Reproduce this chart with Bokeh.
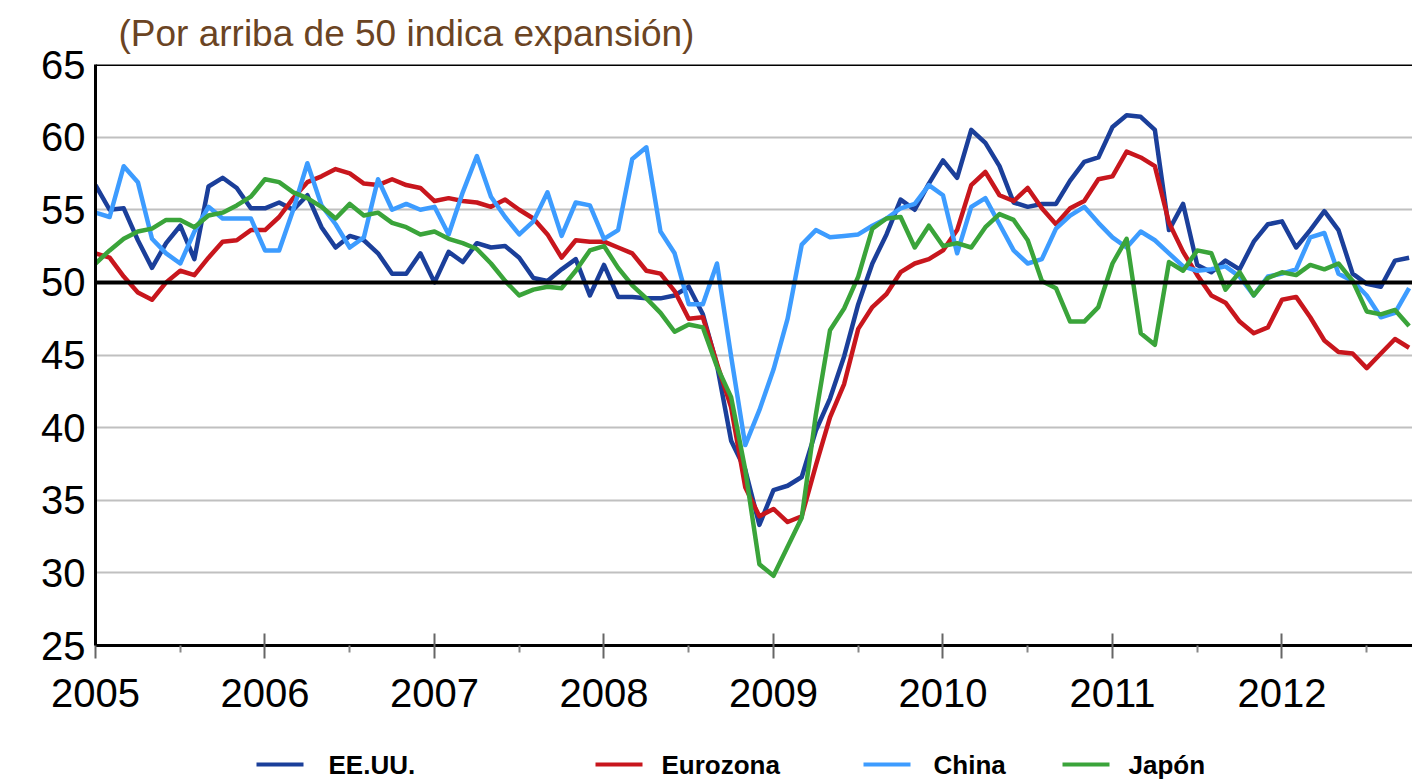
from bokeh.plotting import figure
from bokeh.layouts import column
from bokeh.models import Range1d, FixedTicker, Span
from bokeh.core.properties import value
from bokeh.embed import file_html
from bokeh.resources import INLINE

# ---------------- data ----------------
start_year = 2005
year_ticks = [2005, 2006, 2007, 2008, 2009, 2010, 2011, 2012]
year_labels = ["2005", "2006", "2007", "2008", "2009", "2010", "2011", "2012"]
half_year_ticks = [2005.5, 2006.5, 2007.5, 2008.5, 2009.5, 2010.5, 2011.5, 2012.5]
y_ticks = [25, 30, 35, 40, 45, 50, 55, 60, 65]
series_names = ["EE.UU.", "Eurozona", "China", "Japón"]

# monthly PMI, Jan 2005 - Oct 2012
eeuu = [56.7, 55.0, 55.1, 52.9, 51.0, 52.7, 53.9, 51.6, 56.6, 57.2, 56.5, 55.1,
        55.1, 55.5, 55.0, 56.0, 53.8, 52.4, 53.2, 52.9, 52.0, 50.6, 50.6, 52.0,
        50.0, 52.1, 51.4, 52.7, 52.4, 52.5, 51.7, 50.3, 50.1, 50.9, 51.6, 49.1,
        51.2, 49.0, 49.0, 48.9, 48.9, 49.1, 49.7, 47.8, 44.3, 39.1, 37.1, 33.3,
        35.7, 36.0, 36.6, 39.8, 42.0, 44.9, 48.5, 51.3, 53.3, 55.7, 55.0, 56.8,
        58.4, 57.2, 60.5, 59.6, 58.0, 55.5, 55.2, 55.4, 55.4, 57.0, 58.3, 58.6,
        60.7, 61.5, 61.4, 60.5, 53.6, 55.4, 51.2, 50.7, 51.5, 50.9, 52.8, 54.0,
        54.2, 52.4, 53.6, 54.9, 53.6, 50.6, 49.9, 49.7, 51.5, 51.7]
eurozona = [52.0, 51.7, 50.4, 49.3, 48.8, 50.0, 50.8, 50.5, 51.7, 52.8, 52.9, 53.6,
            53.6, 54.5, 55.8, 56.9, 57.3, 57.8, 57.5, 56.8, 56.7, 57.1, 56.7, 56.5,
            55.6, 55.8, 55.6, 55.5, 55.2, 55.7, 55.0, 54.4, 53.3, 51.7, 52.9, 52.8,
            52.8, 52.4, 52.0, 50.8, 50.6, 49.4, 47.5, 47.6, 44.4, 41.4, 35.9, 33.9,
            34.4, 33.5, 33.9, 37.4, 40.7, 43.0, 46.8, 48.3, 49.2, 50.7, 51.3, 51.6,
            52.2, 53.6, 56.7, 57.6, 56.0, 55.6, 56.5, 55.1, 54.0, 55.1, 55.6, 57.1,
            57.3, 59.0, 58.6, 58.0, 54.1, 52.1, 50.5, 49.1, 48.6, 47.3, 46.5, 46.9,
            48.8, 49.0, 47.6, 46.0, 45.2, 45.1, 44.1, 45.1, 46.1, 45.5]
china = [54.8, 54.5, 58.0, 56.9, 53.0, 52.0, 51.3, 53.5, 55.2, 54.4, 54.4, 54.4,
         52.2, 52.2, 55.0, 58.2, 55.3, 54.0, 52.4, 53.1, 57.1, 55.0, 55.4, 55.0,
         55.2, 53.3, 56.2, 58.7, 55.9, 54.5, 53.3, 54.2, 56.2, 53.2, 55.5, 55.3,
         53.0, 53.6, 58.5, 59.3, 53.5, 52.0, 48.5, 48.5, 51.3, 44.9, 38.8, 41.2,
         44.0, 47.5, 52.6, 53.6, 53.1, 53.2, 53.3, 53.9, 54.4, 55.1, 55.4, 56.7,
         56.0, 52.0, 55.2, 55.8, 54.0, 52.2, 51.3, 51.6, 53.7, 54.6, 55.2, 54.1,
         53.1, 52.4, 53.5, 52.9, 52.0, 51.1, 50.8, 50.9, 51.1, 50.4, 49.1, 50.4,
         50.6, 50.9, 53.1, 53.4, 50.6, 50.1, 49.1, 47.6, 47.9, 49.6]
japon = [51.3, 52.2, 53.0, 53.5, 53.7, 54.3, 54.3, 53.8, 54.6, 54.8, 55.3, 55.9,
         57.1, 56.9, 56.2, 55.8, 55.2, 54.4, 55.4, 54.6, 54.8, 54.1, 53.8, 53.3,
         53.5, 53.0, 52.7, 52.3, 51.3, 50.1, 49.1, 49.5, 49.7, 49.6, 50.8, 52.2,
         52.5, 51.0, 49.8, 48.9, 47.9, 46.6, 47.1, 46.9, 44.2, 42.1, 37.1, 30.6,
         29.8, 31.8, 33.8, 40.9, 46.7, 48.2, 50.4, 53.7, 54.4, 54.5, 52.4, 53.9,
         52.5, 52.7, 52.4, 53.8, 54.7, 54.3, 52.9, 50.1, 49.6, 47.3, 47.3, 48.3,
         51.3, 53.0, 46.5, 45.7, 51.4, 50.8, 52.2, 52.0, 49.5, 50.7, 49.1, 50.3,
         50.7, 50.5, 51.2, 50.9, 51.3, 50.1, 48.0, 47.8, 48.1, 47.0]

months = [start_year + i / 12 for i in range(len(eeuu))]

# ---------------- main figure ----------------
FONT = "Liberation Sans"
colors = ["#1b3f9a", "#c8161d", "#3d9cff", "#3aa43a"]

p = figure(width=1412, height=730, output_backend="svg", toolbar_location=None,
           x_range=Range1d(2005, 2012.77), y_range=Range1d(25, 65),
           min_border_left=95, min_border_right=0, min_border_top=64,
           min_border_bottom=85, title="(Por arriba de 50 indica expansión)")
p.title.text_font = FONT
p.title.text_font_size = "37px"
p.title.text_font_style = "normal"
p.title.text_color = "#6b4423"
p.title.align = "left"
p.title.offset = 23
p.title.standoff = 21
p.outline_line_color = None
p.background_fill_color = "white"
p.border_fill_color = "white"

# x axis
p.xaxis.ticker = FixedTicker(ticks=year_ticks, minor_ticks=half_year_ticks)
p.xaxis.major_label_overrides = {t: l for t, l in zip(year_ticks, year_labels)}
p.xaxis.axis_line_color = "black"
p.xaxis.axis_line_width = 3
p.xaxis.major_tick_in = 12
p.xaxis.major_tick_out = 13
p.xaxis.major_tick_line_color = "#666666"
p.xaxis.major_tick_line_width = 2
p.xaxis.minor_tick_in = 0
p.xaxis.minor_tick_out = 7
p.xaxis.minor_tick_line_color = "#888888"
p.xaxis.minor_tick_line_width = 2
p.xaxis.major_label_standoff = 20
p.xaxis.major_label_text_font = FONT
p.xaxis.major_label_text_font_size = "40px"
p.xaxis.major_label_text_color = "black"
p.xgrid.grid_line_color = None

# y axis
p.yaxis.ticker = FixedTicker(ticks=y_ticks)
p.yaxis.axis_line_color = "black"
p.yaxis.axis_line_width = 3
p.yaxis.major_tick_in = 0
p.yaxis.major_tick_out = 0
p.yaxis.minor_tick_line_color = None
p.yaxis.major_label_standoff = 10
p.yaxis.major_label_text_font = FONT
p.yaxis.major_label_text_font_size = "40px"
p.yaxis.major_label_text_color = "black"
p.ygrid.grid_line_color = "#c0c0c0"
p.ygrid.grid_line_width = 2

# reference lines
p.add_layout(Span(location=50, dimension="width", line_color="black", line_width=4))
p.add_layout(Span(location=65, dimension="width", line_color="black", line_width=3))

for vals, col in zip([eeuu, eurozona, china, japon], colors):
    p.line(months, vals, line_color=col, line_width=4.5, line_join="round")

# ---------------- legend strip (layout in pixel coordinates) ----------------
lg = figure(width=1412, height=50, output_backend="svg", toolbar_location=None,
            x_range=Range1d(95, 1412), y_range=Range1d(0, 50),
            min_border_left=95, min_border_right=0, min_border_top=0,
            min_border_bottom=0)
lg.axis.visible = False
lg.grid.visible = False
lg.outline_line_color = None
lg.background_fill_color = "white"
lg.border_fill_color = "white"

key_x0 = [256, 595, 863, 1062]
key_len = 47
label_x = [328, 661, 933, 1128]
key_y = 16
lg.segment(x0=key_x0, x1=[k + key_len for k in key_x0],
           y0=[key_y] * 4, y1=[key_y] * 4, line_color=colors, line_width=4)
lg.text(x=label_x, y=[key_y] * 4, text=series_names,
        text_font=value(FONT), text_font_size="26px", text_font_style="bold",
        text_baseline="middle", text_align="left", text_color="black")

layout = column(p, lg, spacing=0)
open("out.html", "w").write(file_html(layout, INLINE))
